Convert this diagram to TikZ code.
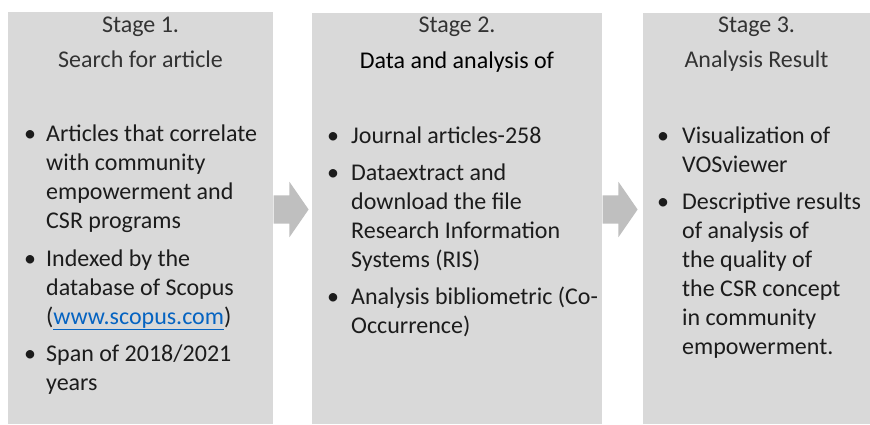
\documentclass[tikz,border=0pt]{standalone}
\usepackage{fontspec}
\setmainfont{Carlito}
\usepackage{tikz}
\usetikzlibrary{shapes.arrows}

\definecolor{boxgray}{HTML}{D9D9D9}
\definecolor{arrowgray}{HTML}{BFBFBF}
\definecolor{titlegray}{HTML}{333333}
\definecolor{bodygray}{HTML}{1C1C1C}
\definecolor{linkblue}{HTML}{0563C1}

\tikzset{
  stagebox/.style={fill=boxgray, draw=none, anchor=north west, inner sep=0pt},
  stagearrow/.style={single arrow, fill=arrowgray, draw=none, anchor=tail,
    inner xsep=0pt, inner ysep=14pt, minimum height=35pt, minimum width=55pt,
    single arrow head extend=13.5pt, single arrow tip angle=110.7},
  stagetitle/.style={font=\fontsize{24}{29}\selectfont, text=titlegray,
    anchor=base, inner sep=0pt},
  bulletdot/.style={font=\fontsize{24}{29}\selectfont, text=bodygray,
    anchor=base, inner sep=0pt},
  itemtext/.style={font=\fontsize{24}{29}\selectfont, text=bodygray,
    align=left, anchor=base west, inner sep=0pt}
}

\begin{document}
\begin{tikzpicture}[x=1pt,y=-1pt]
  \useasboundingbox (0,0) rectangle (870,424);
  % instantiate stage boxes
  \node[stagebox, minimum width=265pt, minimum height=412pt] (s1) at (8,12) {};
  \node[stagebox, minimum width=290pt, minimum height=411pt] (s2) at (312,13) {};
  \node[stagebox, minimum width=227pt, minimum height=411pt] (s3) at (643,13) {};
  % arrows between stages
  \coordinate (yarrow) at (0,209.5);
  \node[stagearrow] (a12) at (s1.east |- yarrow) {};
  \node[stagearrow] (a23) at (s2.east |- yarrow) {};
  % stage 1 (item texts sit on the baseline of their last line)
  \node[stagetitle] (t1a) at (140.5,32) {Stage 1.};
  \node[stagetitle] (t1b) at (140.5,67) {Search for article};
  \node[bulletdot] (b11) at (30,141) {•};
  \node[itemtext] (i11) at (46,228) {Articles that correlate\\with community\\empowerment and\\CSR programs};
  \node[bulletdot] (b12) at (30,266) {•};
  \node[itemtext] (i12) at (46,324) {Indexed by the\\database of Scopus\\(\textcolor{linkblue}{\underline{www.scopus.com}})};
  \node[bulletdot] (b13) at (30,361) {•};
  \node[itemtext] (i13) at (46,390) {Span of 2018/2021\\years};
  % stage 2
  \node[stagetitle] (t2a) at (457,32) {Stage 2.};
  \node[stagetitle, text=black] (t2b) at (457,68) {Data and analysis of};
  \node[bulletdot] (b21) at (333,143) {•};
  \node[itemtext] (i21) at (351,143) {Journal articles-258};
  \node[bulletdot] (b22) at (333,180) {•};
  \node[itemtext] (i22) at (351,267) {Dataextract and\\download the file\\Research Information\\Systems (RIS)};
  \node[bulletdot] (b23) at (333,304) {•};
  \node[itemtext] (i23) at (351,333) {Analysis bibliometric (Co-\\Occurrence)};
  % stage 3
  \node[stagetitle] (t3a) at (756.5,32) {Stage 3.};
  \node[stagetitle] (t3b) at (756.5,67) {Analysis Result};
  \node[bulletdot] (b31) at (663,143) {•};
  \node[itemtext] (i31) at (682,172) {Visualization of\\VOSviewer};
  \node[bulletdot] (b32) at (663,209) {•};
  \node[itemtext] (i32) at (682,354) {Descriptive results\\of analysis of\\the quality of\\the CSR concept\\in community\\empowerment.};
\end{tikzpicture}
\end{document}
